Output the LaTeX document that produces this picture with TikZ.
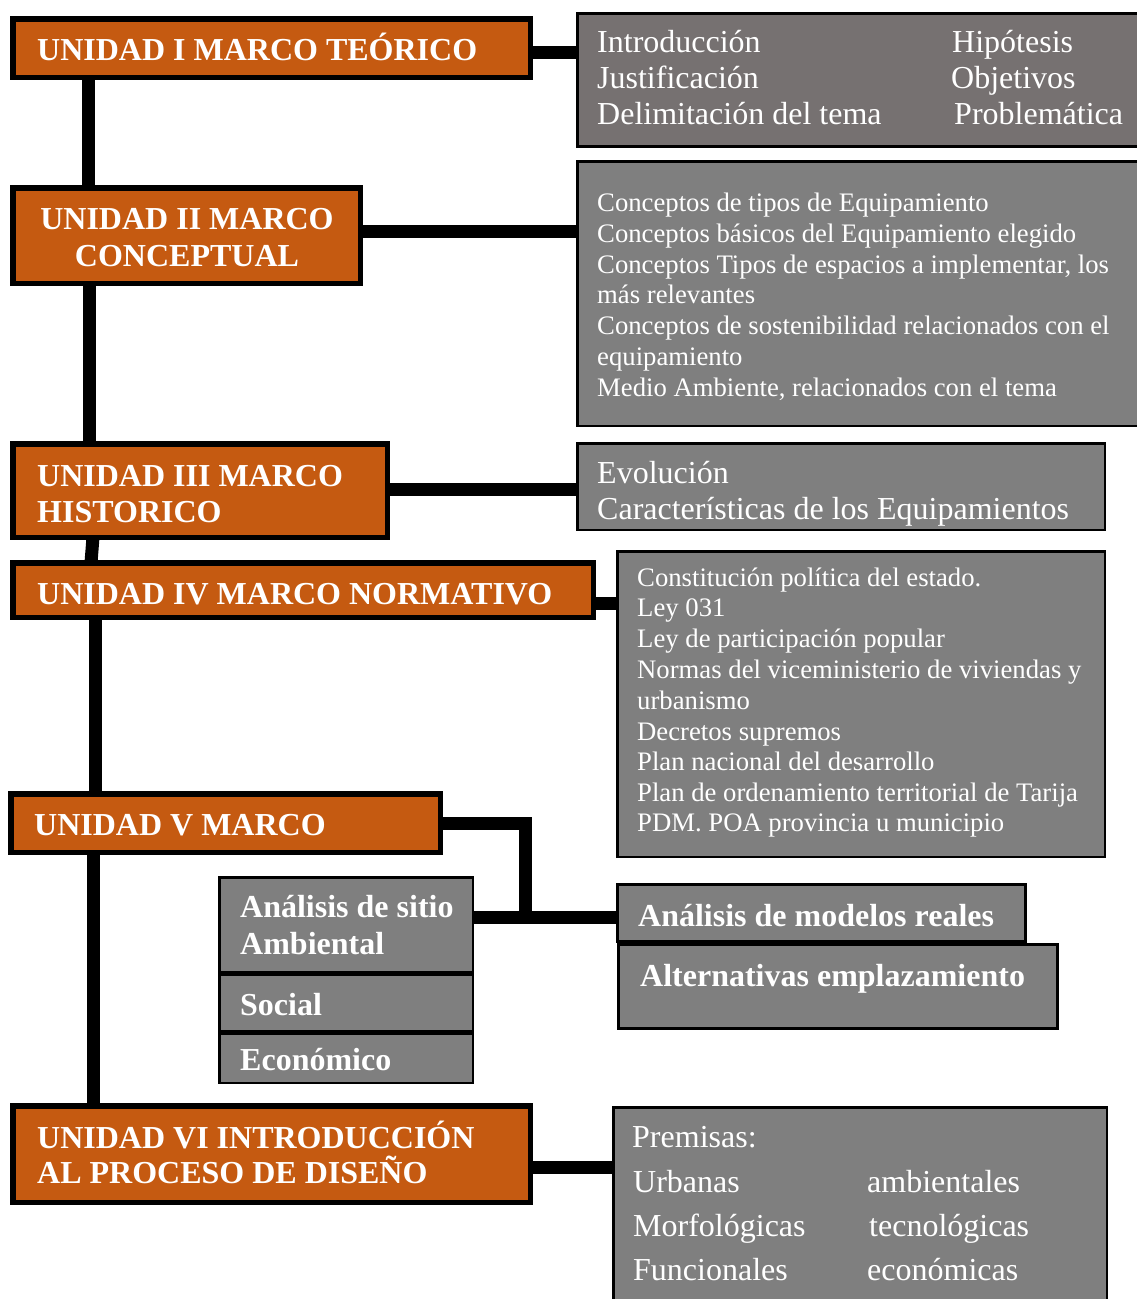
\documentclass[tikz,border=0pt]{standalone}
\usepackage{fontspec}
\setmainfont{Liberation Serif}
\usetikzlibrary{calc}
\definecolor{orng}{HTML}{C55A11}
\definecolor{gryA}{HTML}{767171}
\definecolor{gryB}{HTML}{7F7F7F}
\pgfdeclarelayer{bg}
\pgfsetlayers{bg,main}
\newcommand\mkbox[7]{\node[#2, line width=#7pt, minimum width={#5-#3-#7}, minimum height={#6-#4-#7}] (#1) at ({(#3+#5)/2},{(#4+#6)/2}) {};}
\begin{document}
\begin{tikzpicture}[x=1pt,y=-1pt,
  obox/.style={draw=black, fill=orng, inner sep=0pt, outer sep=0pt},
  gbox/.style={draw=black, fill=gryB, inner sep=0pt, outer sep=0pt},
  gboxA/.style={draw=black, fill=gryA, inner sep=0pt, outer sep=0pt},
  conn/.style={line width=13pt, draw=black, line join=miter},
  ot/.style={anchor=base west, inner sep=0pt, text=white, font=\fontsize{32}{36}\selectfont\bfseries},
  otc/.style={anchor=base, inner sep=0pt, text=white, font=\fontsize{32}{36}\selectfont\bfseries},
  gt/.style={anchor=base west, inner sep=0pt, text=white, font=\fontsize{32}{36}\selectfont},
  st/.style={anchor=base west, inner sep=0pt, text=white, font=\fontsize{26.7}{31}\selectfont}]
\useasboundingbox (0,0) rectangle (1136,1299);

% orange unit boxes
\mkbox{u1}{obox}{10}{16}{533}{80}{5.5}
\mkbox{u2}{obox}{10}{185}{363}{286}{5.5}
\mkbox{u3}{obox}{10}{441}{390}{540}{5.5}
\mkbox{u4}{obox}{10}{560}{596}{620}{5.5}
\mkbox{u5}{obox}{8}{791}{443}{855}{5.5}
\mkbox{u6}{obox}{10}{1103}{533}{1205}{5.5}

% gray boxes
\mkbox{g1}{gboxA}{576}{12}{1142}{148}{3}
\mkbox{g2}{gbox}{576}{160}{1142}{427}{2.5}
\mkbox{g3}{gbox}{576}{442}{1106}{531}{2.5}
\mkbox{g4}{gbox}{616}{550}{1106}{858}{2.5}
\mkbox{g5}{gbox}{218}{876}{474}{973}{2.5}
\mkbox{g6}{gbox}{218}{973}{474}{1032}{2.5}
\mkbox{g7}{gbox}{218}{1032}{474}{1084}{2.5}
\mkbox{g8}{gbox}{616}{883}{1027}{943}{3}
\mkbox{g9}{gbox}{617}{943}{1059}{1030}{3}
\mkbox{g10}{gbox}{612}{1106}{1108}{1310}{2.5}

% texts in orange boxes
\node[ot] (tu1) at (37,60) {UNIDAD I MARCO TEÓRICO};
\node[otc] (tu2a) at (187,229) {UNIDAD II MARCO};
\node[otc] (tu2b) at (187,266) {CONCEPTUAL};
\node[ot] (tu3a) at (37,486) {UNIDAD III MARCO};
\node[ot] (tu3b) at (37,522) {HISTORICO};
\node[ot] (tu4) at (37,604) {UNIDAD IV MARCO NORMATIVO};
\node[ot] (tu5) at (34,835) {UNIDAD V MARCO};
\node[ot] (tu6a) at (37,1148) {UNIDAD VI INTRODUCCIÓN};
\node[ot] (tu6b) at (37,1183) {AL PROCESO DE DISEÑO};

% g1
\node[gt] (t1a) at (597,52) {Introducción};
\node[gt] (t1b) at (597,88) {Justificación};
\node[gt] (t1c) at (597,124) {Delimitación del tema};
\node[gt] (t1d) at (952,52) {Hipótesis};
\node[gt] (t1e) at (951,88) {Objetivos};
\node[gt] (t1f) at (954,124) {Problemática};

% g2
\node[st] (t2a) at (597,211) {Conceptos de tipos de Equipamiento};
\node[st] (t2b) at (597,242) {Conceptos básicos del Equipamiento elegido};
\node[st] (t2c) at (597,273) {Conceptos Tipos de espacios a implementar, los};
\node[st] (t2d) at (597,303) {más relevantes};
\node[st] (t2e) at (597,334) {Conceptos de sostenibilidad relacionados con el};
\node[st] (t2f) at (597,365) {equipamiento};
\node[st] (t2g) at (597,396) {Medio Ambiente, relacionados con el tema};

% g3
\node[gt] (t3a) at (597,483) {Evolución};
\node[gt] (t3b) at (597,519) {Características de los Equipamientos};

% g4
\node[st] (t4a) at (637,586) {Constitución política del estado.};
\node[st] (t4b) at (637,616) {Ley 031};
\node[st] (t4c) at (637,647) {Ley de participación popular};
\node[st] (t4d) at (637,678) {Normas del viceministerio de viviendas y};
\node[st] (t4e) at (637,709) {urbanismo};
\node[st] (t4f) at (637,740) {Decretos supremos};
\node[st] (t4g) at (637,770) {Plan nacional del desarrollo};
\node[st] (t4h) at (637,801) {Plan de ordenamiento territorial de Tarija};
\node[st] (t4i) at (637,831) {PDM. POA provincia u municipio};

% g5-g9
\node[ot] (t5a) at (240,917) {Análisis de sitio};
\node[ot] (t5b) at (240,954) {Ambiental};
\node[ot] (t6) at (240,1015) {Social};
\node[ot] (t7) at (240,1070) {Económico};
\node[ot] (t8) at (638,926) {Análisis de modelos reales};
\node[ot] (t9) at (640,986) {Alternativas emplazamiento};

% g10
\node[gt] (t10a) at (632,1147) {Premisas:};
\node[gt] (t10b) at (633,1192) {Urbanas};
\node[gt] (t10c) at (633,1236) {Morfológicas};
\node[gt] (t10d) at (633,1280) {Funcionales};
\node[gt] (t10e) at (867,1192) {ambientales};
\node[gt] (t10f) at (869,1236) {tecnológicas};
\node[gt] (t10g) at (867,1280) {económicas};

% helper coordinates
\coordinate (s1) at (88,0);
\coordinate (s2) at (89,0);
\coordinate (s3a) at (93,0);
\coordinate (s3b) at (91,0);
\coordinate (s4) at (95,0);
\coordinate (s5) at (93,0);
\coordinate (h1) at (0,52);
\coordinate (h2) at (0,231);
\coordinate (h3) at (0,489);
\coordinate (h4) at (0,603);
\coordinate (h6) at (0,1167);
\coordinate (j) at (525,917);

\begin{pgfonlayer}{bg}
\draw[conn] (u1.south -| s1) -- (u2.north -| s1);
\draw[conn] (u2.south -| s2) -- (u3.north -| s2);
\draw[conn] (u3.south -| s3a) -- (u4.north -| s3b);
\draw[conn] (u4.south -| s4) -- (u5.north -| s4);
\draw[conn] (u5.south -| s5) -- (u6.north -| s5);
\draw[conn] (u1.east |- h1) -- (g1.west |- h1);
\draw[conn] (u2.east |- h2) -- (g2.west |- h2);
\draw[conn] (u3.east |- h3) -- (g3.west |- h3);
\draw[conn] (u4.east |- h4) -- (g4.west |- h4);
\draw[conn] (u5.east) -| (j);
\draw[conn] (g5.east |- j) -- (g8.west |- j);
\draw[conn] (u6.east |- h6) -- (g10.west |- h6);
\end{pgfonlayer}
\end{tikzpicture}
\end{document}
